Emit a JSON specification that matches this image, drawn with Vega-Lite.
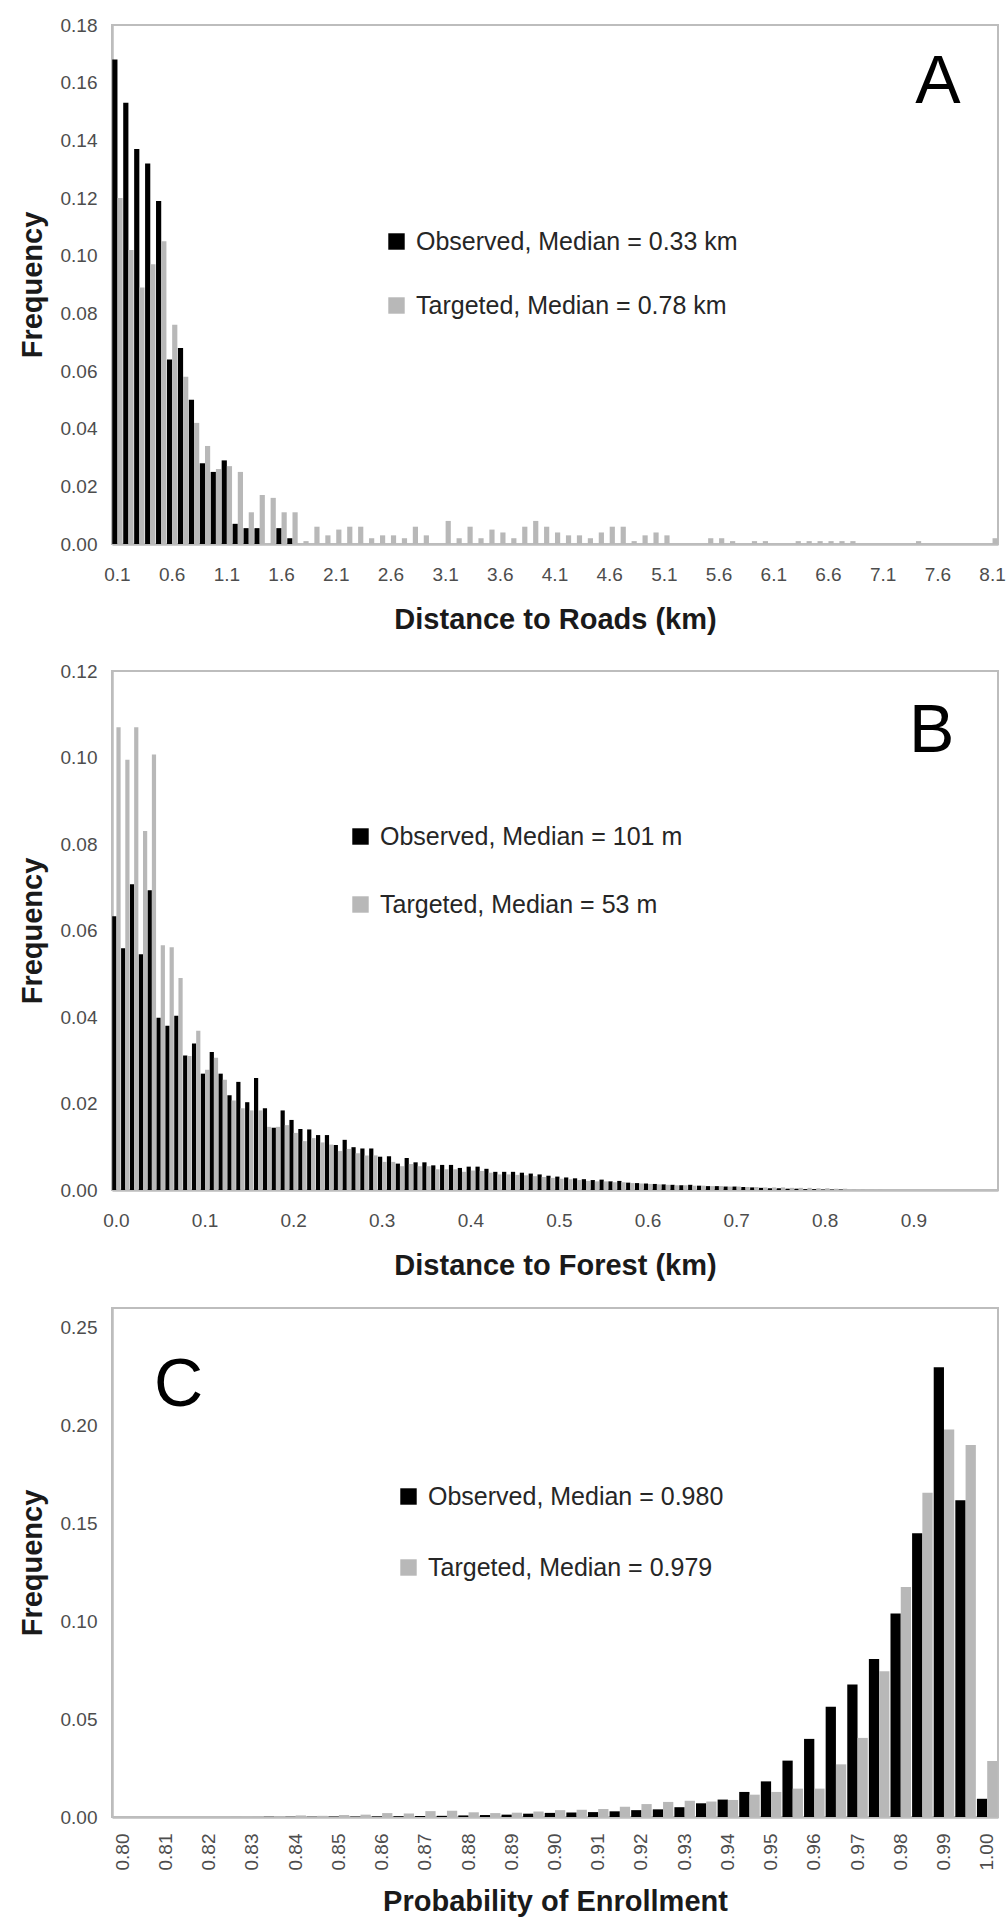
{
  "$schema": "https://vega.github.io/schema/vega-lite/v6.json",
  "background": "white",
  "padding": {"left": 17, "top": 15, "right": 8, "bottom": 2},
  "spacing": 26,
  "config": {
    "font": "Liberation Sans",
    "view": {"stroke": "#bdbdbd", "strokeWidth": 2},
    "axis": {
      "domainColor": "#bdbdbd", "domainWidth": 2.5, "ticks": false, "tickSize": 0, "grid": false,
      "labelFont": "Liberation Sans", "labelFontSize": 19, "labelColor": "#4d4d4d",
      "titleFont": "Liberation Sans", "titleFontSize": 29, "titleFontWeight": "bold", "titleColor": "#1a1a1a"
    },
    "axisY": {"labelPadding": 15, "titlePadding": 13},
    "legend": {
      "symbolType": "square", "symbolSize": 270, "symbolStrokeWidth": 0,
      "labelFont": "Liberation Sans", "labelFontSize": 25, "labelColor": "#262626",
      "labelLimit": 600, "labelOffset": 7, "padding": 0, "title": null
    }
  },
  "resolve": {"scale": {"color": "independent", "xOffset": "independent"}, "legend": {"color": "independent"}},
  "datasets": {
    "roads": [
      {"d":"0.1","Observed":0.168,"Targeted":0.120},{"d":"0.2","Observed":0.153,"Targeted":0.102},
      {"d":"0.3","Observed":0.137,"Targeted":0.089},{"d":"0.4","Observed":0.132,"Targeted":0.097},
      {"d":"0.5","Observed":0.119,"Targeted":0.105},{"d":"0.6","Observed":0.064,"Targeted":0.076},
      {"d":"0.7","Observed":0.068,"Targeted":0.058},{"d":"0.8","Observed":0.050,"Targeted":0.042},
      {"d":"0.9","Observed":0.028,"Targeted":0.034},{"d":"1.0","Observed":0.025,"Targeted":0.026},
      {"d":"1.1","Observed":0.029,"Targeted":0.027},{"d":"1.2","Observed":0.007,"Targeted":0.025},
      {"d":"1.3","Observed":0.0055,"Targeted":0.011},{"d":"1.4","Observed":0.0055,"Targeted":0.017},
      {"d":"1.5","Observed":0,"Targeted":0.016},{"d":"1.6","Observed":0.0055,"Targeted":0.011},
      {"d":"1.7","Observed":0.002,"Targeted":0.011},{"d":"1.8","Observed":0,"Targeted":0.001},
      {"d":"1.9","Observed":0,"Targeted":0.006},{"d":"2.0","Observed":0,"Targeted":0.003},
      {"d":"2.1","Observed":0,"Targeted":0.005},{"d":"2.2","Observed":0,"Targeted":0.006},
      {"d":"2.3","Observed":0,"Targeted":0.006},{"d":"2.4","Observed":0,"Targeted":0.002},
      {"d":"2.5","Observed":0,"Targeted":0.003},{"d":"2.6","Observed":0,"Targeted":0.003},
      {"d":"2.7","Observed":0,"Targeted":0.002},{"d":"2.8","Observed":0,"Targeted":0.006},
      {"d":"2.9","Observed":0,"Targeted":0.003},{"d":"3.0","Observed":0,"Targeted":0},
      {"d":"3.1","Observed":0,"Targeted":0.008},{"d":"3.2","Observed":0,"Targeted":0.002},
      {"d":"3.3","Observed":0,"Targeted":0.006},{"d":"3.4","Observed":0,"Targeted":0.002},
      {"d":"3.5","Observed":0,"Targeted":0.005},{"d":"3.6","Observed":0,"Targeted":0.004},
      {"d":"3.7","Observed":0,"Targeted":0.002},{"d":"3.8","Observed":0,"Targeted":0.006},
      {"d":"3.9","Observed":0,"Targeted":0.008},{"d":"4.0","Observed":0,"Targeted":0.006},
      {"d":"4.1","Observed":0,"Targeted":0.004},{"d":"4.2","Observed":0,"Targeted":0.003},
      {"d":"4.3","Observed":0,"Targeted":0.003},{"d":"4.4","Observed":0,"Targeted":0.002},
      {"d":"4.5","Observed":0,"Targeted":0.004},{"d":"4.6","Observed":0,"Targeted":0.006},
      {"d":"4.7","Observed":0,"Targeted":0.006},{"d":"4.8","Observed":0,"Targeted":0.001},
      {"d":"4.9","Observed":0,"Targeted":0.003},{"d":"5.0","Observed":0,"Targeted":0.004},
      {"d":"5.1","Observed":0,"Targeted":0.003},{"d":"5.2","Observed":0,"Targeted":0},
      {"d":"5.3","Observed":0,"Targeted":0},{"d":"5.4","Observed":0,"Targeted":0},
      {"d":"5.5","Observed":0,"Targeted":0.002},{"d":"5.6","Observed":0,"Targeted":0.002},
      {"d":"5.7","Observed":0,"Targeted":0.001},{"d":"5.8","Observed":0,"Targeted":0},
      {"d":"5.9","Observed":0,"Targeted":0.001},{"d":"6.0","Observed":0,"Targeted":0.001},
      {"d":"6.1","Observed":0,"Targeted":0},{"d":"6.2","Observed":0,"Targeted":0},
      {"d":"6.3","Observed":0,"Targeted":0.001},{"d":"6.4","Observed":0,"Targeted":0.001},
      {"d":"6.5","Observed":0,"Targeted":0.001},{"d":"6.6","Observed":0,"Targeted":0.001},
      {"d":"6.7","Observed":0,"Targeted":0.001},{"d":"6.8","Observed":0,"Targeted":0.001},
      {"d":"6.9","Observed":0,"Targeted":0},{"d":"7.0","Observed":0,"Targeted":0},
      {"d":"7.1","Observed":0,"Targeted":0},{"d":"7.2","Observed":0,"Targeted":0},
      {"d":"7.3","Observed":0,"Targeted":0},{"d":"7.4","Observed":0,"Targeted":0.001},
      {"d":"7.5","Observed":0,"Targeted":0},{"d":"7.6","Observed":0,"Targeted":0},
      {"d":"7.7","Observed":0,"Targeted":0},{"d":"7.8","Observed":0,"Targeted":0},
      {"d":"7.9","Observed":0,"Targeted":0},{"d":"8.0","Observed":0,"Targeted":0},
      {"d":"8.1","Observed":0,"Targeted":0.002}
    ],
    "forest": [
      {"d":"0.00","Observed":0.0633,"Targeted":0.107},{"d":"0.01","Observed":0.0559,"Targeted":0.0995},
      {"d":"0.02","Observed":0.0707,"Targeted":0.107},{"d":"0.03","Observed":0.0545,"Targeted":0.083},
      {"d":"0.04","Observed":0.0693,"Targeted":0.1007},{"d":"0.05","Observed":0.0398,"Targeted":0.0566},
      {"d":"0.06","Observed":0.038,"Targeted":0.0561},{"d":"0.07","Observed":0.0403,"Targeted":0.049},
      {"d":"0.08","Observed":0.0311,"Targeted":0.031},{"d":"0.09","Observed":0.0339,"Targeted":0.0368},
      {"d":"0.10","Observed":0.0269,"Targeted":0.0278},{"d":"0.11","Observed":0.0319,"Targeted":0.0306},
      {"d":"0.12","Observed":0.0269,"Targeted":0.0255},{"d":"0.13","Observed":0.0219,"Targeted":0.0207},
      {"d":"0.14","Observed":0.025,"Targeted":0.0189},{"d":"0.15","Observed":0.0203,"Targeted":0.0184},
      {"d":"0.16","Observed":0.0259,"Targeted":0.0184},{"d":"0.17","Observed":0.0189,"Targeted":0.0146},
      {"d":"0.18","Observed":0.0144,"Targeted":0.0146},{"d":"0.19","Observed":0.0184,"Targeted":0.015},
      {"d":"0.20","Observed":0.0162,"Targeted":0.0132},{"d":"0.21","Observed":0.0141,"Targeted":0.0113},
      {"d":"0.22","Observed":0.014,"Targeted":0.012},{"d":"0.23","Observed":0.0127,"Targeted":0.011},
      {"d":"0.24","Observed":0.0127,"Targeted":0.0105},{"d":"0.25","Observed":0.0104,"Targeted":0.009},
      {"d":"0.26","Observed":0.0116,"Targeted":0.0095},{"d":"0.27","Observed":0.0099,"Targeted":0.0085},
      {"d":"0.28","Observed":0.0096,"Targeted":0.008},{"d":"0.29","Observed":0.0096,"Targeted":0.008},
      {"d":"0.30","Observed":0.0077,"Targeted":0.0065},{"d":"0.31","Observed":0.0078,"Targeted":0.0065},
      {"d":"0.32","Observed":0.0061,"Targeted":0.0055},{"d":"0.33","Observed":0.0074,"Targeted":0.006},
      {"d":"0.34","Observed":0.0064,"Targeted":0.0055},{"d":"0.35","Observed":0.0064,"Targeted":0.0055},
      {"d":"0.36","Observed":0.0057,"Targeted":0.0048},{"d":"0.37","Observed":0.0058,"Targeted":0.0048},
      {"d":"0.38","Observed":0.0058,"Targeted":0.0048},{"d":"0.39","Observed":0.0051,"Targeted":0.0042},
      {"d":"0.40","Observed":0.0054,"Targeted":0.0045},{"d":"0.41","Observed":0.0054,"Targeted":0.0044},
      {"d":"0.42","Observed":0.0049,"Targeted":0.004},{"d":"0.43","Observed":0.0042,"Targeted":0.0036},
      {"d":"0.44","Observed":0.0042,"Targeted":0.0036},{"d":"0.45","Observed":0.0042,"Targeted":0.0035},
      {"d":"0.46","Observed":0.004,"Targeted":0.0034},{"d":"0.47","Observed":0.0038,"Targeted":0.0032},
      {"d":"0.48","Observed":0.0036,"Targeted":0.003},{"d":"0.49","Observed":0.0033,"Targeted":0.0028},
      {"d":"0.50","Observed":0.0031,"Targeted":0.0026},{"d":"0.51","Observed":0.0029,"Targeted":0.0025},
      {"d":"0.52","Observed":0.0027,"Targeted":0.0023},{"d":"0.53","Observed":0.0025,"Targeted":0.0021},
      {"d":"0.54","Observed":0.0023,"Targeted":0.002},{"d":"0.55","Observed":0.0024,"Targeted":0.002},
      {"d":"0.56","Observed":0.002,"Targeted":0.0018},{"d":"0.57","Observed":0.0021,"Targeted":0.0018},
      {"d":"0.58","Observed":0.0017,"Targeted":0.0016},{"d":"0.59","Observed":0.0016,"Targeted":0.0015},
      {"d":"0.60","Observed":0.0015,"Targeted":0.0014},{"d":"0.61","Observed":0.0014,"Targeted":0.0013},
      {"d":"0.62","Observed":0.0013,"Targeted":0.0012},{"d":"0.63","Observed":0.0012,"Targeted":0.0011},
      {"d":"0.64","Observed":0.0011,"Targeted":0.0011},{"d":"0.65","Observed":0.0012,"Targeted":0.001},
      {"d":"0.66","Observed":0.001,"Targeted":0.001},{"d":"0.67","Observed":0.0009,"Targeted":0.0009},
      {"d":"0.68","Observed":0.0009,"Targeted":0.0009},{"d":"0.69","Observed":0.0008,"Targeted":0.0008},
      {"d":"0.70","Observed":0.0008,"Targeted":0.0008},{"d":"0.71","Observed":0.0007,"Targeted":0.0007},
      {"d":"0.72","Observed":0.0006,"Targeted":0.0007},{"d":"0.73","Observed":0.0005,"Targeted":0.0006},
      {"d":"0.74","Observed":0.0004,"Targeted":0.0006},{"d":"0.75","Observed":0.0004,"Targeted":0.0006},
      {"d":"0.76","Observed":0.0003,"Targeted":0.0005},{"d":"0.77","Observed":0.0003,"Targeted":0.0005},
      {"d":"0.78","Observed":0.0002,"Targeted":0.0005},{"d":"0.79","Observed":0.0002,"Targeted":0.0004},
      {"d":"0.80","Observed":0.0001,"Targeted":0.0004},{"d":"0.81","Observed":0.0001,"Targeted":0.0003},
      {"d":"0.82","Observed":0.0001,"Targeted":0.0003},{"d":"0.83","Observed":0,"Targeted":0.0002},
      {"d":"0.84","Observed":0,"Targeted":0.0002},{"d":"0.85","Observed":0,"Targeted":0.0001},
      {"d":"0.86","Observed":0,"Targeted":0.0001},{"d":"0.87","Observed":0,"Targeted":0},
      {"d":"0.88","Observed":0,"Targeted":0},{"d":"0.89","Observed":0,"Targeted":0},
      {"d":"0.90","Observed":0,"Targeted":0},{"d":"0.91","Observed":0,"Targeted":0},
      {"d":"0.92","Observed":0,"Targeted":0},{"d":"0.93","Observed":0,"Targeted":0},
      {"d":"0.94","Observed":0,"Targeted":0},{"d":"0.95","Observed":0,"Targeted":0},
      {"d":"0.96","Observed":0,"Targeted":0},{"d":"0.97","Observed":0,"Targeted":0},
      {"d":"0.98","Observed":0,"Targeted":0},{"d":"0.99","Observed":0,"Targeted":0}
    ],
    "enroll": [
      {"d":"0.800","Observed":0,"Targeted":0},{"d":"0.805","Observed":0,"Targeted":0},
      {"d":"0.810","Observed":0,"Targeted":0},{"d":"0.815","Observed":0,"Targeted":0},
      {"d":"0.820","Observed":0,"Targeted":0},{"d":"0.825","Observed":0,"Targeted":0.0002},
      {"d":"0.830","Observed":0,"Targeted":0.0002},{"d":"0.835","Observed":0.0001,"Targeted":0.0004},
      {"d":"0.840","Observed":0.0001,"Targeted":0.0008},{"d":"0.845","Observed":0.0001,"Targeted":0.0006},
      {"d":"0.850","Observed":0.0002,"Targeted":0.001},{"d":"0.855","Observed":0.0002,"Targeted":0.0012},
      {"d":"0.860","Observed":0.0003,"Targeted":0.002},{"d":"0.865","Observed":0.0004,"Targeted":0.0018},
      {"d":"0.870","Observed":0.0005,"Targeted":0.003},{"d":"0.875","Observed":0.0006,"Targeted":0.0032},
      {"d":"0.880","Observed":0.0008,"Targeted":0.0024},{"d":"0.885","Observed":0.001,"Targeted":0.002},
      {"d":"0.890","Observed":0.0012,"Targeted":0.0022},{"d":"0.895","Observed":0.0017,"Targeted":0.0028},
      {"d":"0.900","Observed":0.0021,"Targeted":0.0035},{"d":"0.905","Observed":0.0023,"Targeted":0.0037},
      {"d":"0.910","Observed":0.0025,"Targeted":0.0041},{"d":"0.915","Observed":0.0029,"Targeted":0.0052},
      {"d":"0.920","Observed":0.0035,"Targeted":0.0066},{"d":"0.925","Observed":0.0039,"Targeted":0.0077},
      {"d":"0.930","Observed":0.005,"Targeted":0.0083},{"d":"0.935","Observed":0.007,"Targeted":0.0079},
      {"d":"0.940","Observed":0.0089,"Targeted":0.0087},{"d":"0.945","Observed":0.0128,"Targeted":0.0114},
      {"d":"0.950","Observed":0.0182,"Targeted":0.0128},{"d":"0.955","Observed":0.0288,"Targeted":0.0145},
      {"d":"0.960","Observed":0.0399,"Targeted":0.0145},{"d":"0.965","Observed":0.0563,"Targeted":0.0269},
      {"d":"0.970","Observed":0.0677,"Targeted":0.0404},{"d":"0.975","Observed":0.0807,"Targeted":0.0745},
      {"d":"0.980","Observed":0.1039,"Targeted":0.1175},{"d":"0.985","Observed":0.1449,"Targeted":0.1656},
      {"d":"0.990","Observed":0.2297,"Targeted":0.198},{"d":"0.995","Observed":0.1618,"Targeted":0.19},
      {"d":"1.000","Observed":0.0093,"Targeted":0.0286}
    ]
  },
  "vconcat": [
    {
      "width": 886, "height": 519,
      "layer": [
        {
          "data": {"name": "roads"},
          "transform": [{"fold": ["Observed", "Targeted"], "as": ["series", "freq"]}],
          "mark": {"type": "bar"},
          "encoding": {
            "x": {"field": "d", "type": "ordinal", "sort": null,
                  "scale": {"paddingInner": 0.05, "paddingOuter": 0.025},
                  "axis": {"title": "Distance to Roads (km)", "labelAngle": 0, "labelPadding": 21, "titlePadding": 21,
                           "values": ["0.1","0.6","1.1","1.6","2.1","2.6","3.1","3.6","4.1","4.6","5.1","5.6","6.1","6.6","7.1","7.6","8.1"]}},
            "xOffset": {"field": "series", "type": "nominal", "sort": ["Observed", "Targeted"]},
            "y": {"field": "freq", "type": "quantitative", "scale": {"domain": [0, 0.18]},
                  "axis": {"title": "Frequency", "format": ".2f", "values": [0, 0.02, 0.04, 0.06, 0.08, 0.1, 0.12, 0.14, 0.16, 0.18]}},
            "color": {"field": "series", "type": "nominal",
                      "scale": {"domain": ["Observed", "Targeted"], "range": ["#000000", "#b8b8b8"]},
                      "legend": {"orient": "none", "legendX": 272, "legendY": 204, "rowPadding": 38,
                                 "labelExpr": "datum.label == 'Observed' ? 'Observed, Median = 0.33 km' : 'Targeted, Median = 0.78 km'"}}
          }
        },
        {
          "data": {"values": [{}]},
          "mark": {"type": "text", "fontSize": 68, "align": "center", "baseline": "middle", "color": "#000000", "font": "Liberation Sans"},
          "encoding": {
            "x": {"datum": "7.6", "type": "ordinal"},
            "y": {"datum": 0.16, "type": "quantitative"},
            "text": {"value": "A"}
          }
        }
      ]
    },
    {
      "width": 886, "height": 519,
      "layer": [
        {
          "data": {"name": "forest"},
          "transform": [{"fold": ["Observed", "Targeted"], "as": ["series", "freq"]}],
          "mark": {"type": "bar"},
          "encoding": {
            "x": {"field": "d", "type": "ordinal", "sort": null,
                  "scale": {"paddingInner": 0.05, "paddingOuter": 0.025},
                  "axis": {"title": "Distance to Forest (km)", "labelAngle": 0, "labelPadding": 21, "titlePadding": 21,
                           "labelExpr": "substring(datum.label, 0, 3)",
                           "values": ["0.00","0.10","0.20","0.30","0.40","0.50","0.60","0.70","0.80","0.90"]}},
            "xOffset": {"field": "series", "type": "nominal", "sort": ["Observed", "Targeted"]},
            "y": {"field": "freq", "type": "quantitative", "scale": {"domain": [0, 0.12]},
                  "axis": {"title": "Frequency", "format": ".2f", "values": [0, 0.02, 0.04, 0.06, 0.08, 0.1, 0.12]}},
            "color": {"field": "series", "type": "nominal",
                      "scale": {"domain": ["Observed", "Targeted"], "range": ["#000000", "#b8b8b8"]},
                      "legend": {"orient": "none", "legendX": 236, "legendY": 153, "rowPadding": 42,
                                 "labelExpr": "datum.label == 'Observed' ? 'Observed, Median = 101 m' : 'Targeted, Median = 53 m'"}}
          }
        },
        {
          "data": {"values": [{}]},
          "mark": {"type": "text", "fontSize": 68, "align": "center", "baseline": "middle", "color": "#000000", "font": "Liberation Sans"},
          "encoding": {
            "x": {"datum": "0.92", "type": "ordinal"},
            "y": {"datum": 0.106, "type": "quantitative"},
            "text": {"value": "B"}
          }
        }
      ]
    },
    {
      "width": 886, "height": 509,
      "layer": [
        {
          "data": {"name": "enroll"},
          "transform": [{"fold": ["Observed", "Targeted"], "as": ["series", "freq"]}],
          "mark": {"type": "bar"},
          "encoding": {
            "x": {"field": "d", "type": "ordinal", "sort": null,
                  "scale": {"paddingInner": 0.05, "paddingOuter": 0.025},
                  "axis": {"title": "Probability of Enrollment", "labelAngle": 270, "labelPadding": 16, "titlePadding": 18,
                           "labelExpr": "substring(datum.label, 0, 4)",
                           "values": ["0.800","0.810","0.820","0.830","0.840","0.850","0.860","0.870","0.880","0.890","0.900","0.910","0.920","0.930","0.940","0.950","0.960","0.970","0.980","0.990","1.000"]}},
            "xOffset": {"field": "series", "type": "nominal", "sort": ["Observed", "Targeted"]},
            "y": {"field": "freq", "type": "quantitative", "scale": {"domain": [0, 0.25]},
                  "axis": {"title": "Frequency", "format": ".2f", "values": [0, 0.05, 0.1, 0.15, 0.2, 0.25]}},
            "color": {"field": "series", "type": "nominal",
                      "scale": {"domain": ["Observed", "Targeted"], "range": ["#000000", "#b8b8b8"]},
                      "legend": {"orient": "none", "legendX": 284, "legendY": 176, "rowPadding": 45,
                                 "labelExpr": "datum.label == 'Observed' ? 'Observed, Median = 0.980' : 'Targeted, Median = 0.979'"}}
          }
        },
        {
          "data": {"values": [{}]},
          "mark": {"type": "text", "fontSize": 68, "align": "center", "baseline": "middle", "color": "#000000", "font": "Liberation Sans", "dx": -9},
          "encoding": {
            "x": {"datum": "0.815", "type": "ordinal"},
            "y": {"datum": 0.22, "type": "quantitative"},
            "text": {"value": "C"}
          }
        }
      ]
    }
  ]
}
